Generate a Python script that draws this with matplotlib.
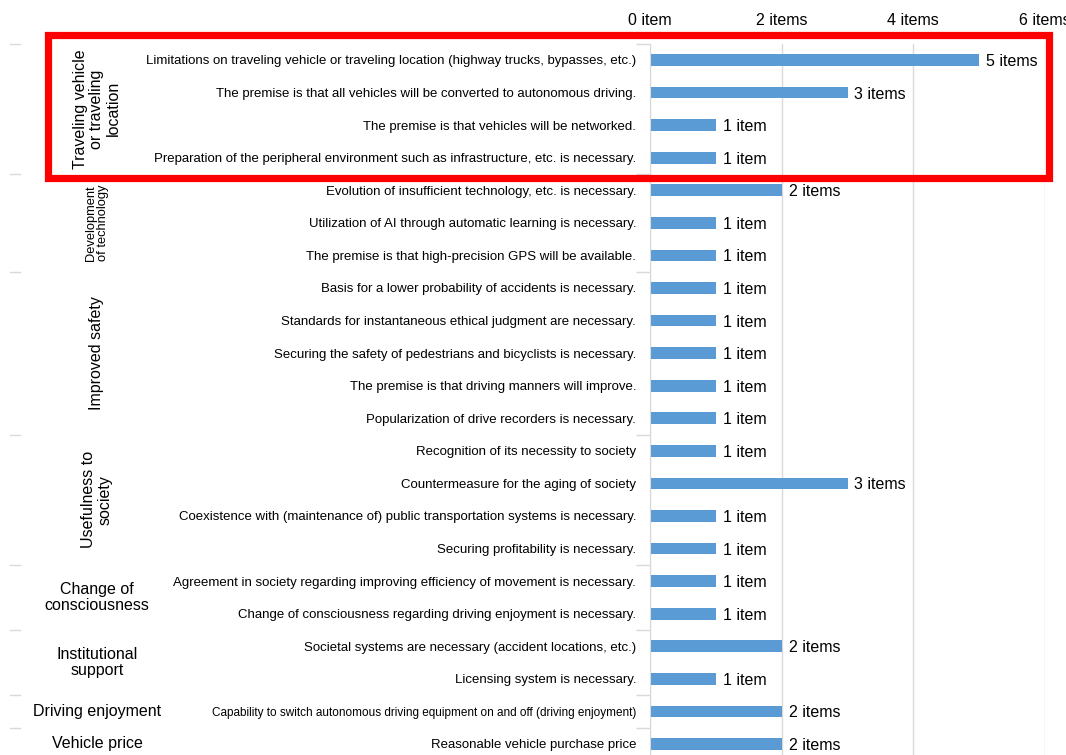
import matplotlib.pyplot as plt
from matplotlib.patches import Rectangle
from matplotlib.transforms import blended_transform_factory

plt.rcParams['font.family'] = ['Liberation Sans', 'DejaVu Sans']

# items, top to bottom
items = [
    "Limitations on traveling vehicle or traveling location (highway trucks, bypasses, etc.)",
    "The premise is that all vehicles will be converted to autonomous driving.",
    "The premise is that vehicles will be networked.",
    "Preparation of the peripheral environment such as infrastructure, etc. is necessary.",
    "Evolution of insufficient technology, etc. is necessary.",
    "Utilization of AI through automatic learning is necessary.",
    "The premise is that high-precision GPS will be available.",
    "Basis for a lower probability of accidents is necessary.",
    "Standards for instantaneous ethical judgment are necessary.",
    "Securing the safety of pedestrians and bicyclists is necessary.",
    "The premise is that driving manners will improve.",
    "Popularization of drive recorders is necessary.",
    "Recognition of its necessity to society",
    "Countermeasure for the aging of society",
    "Coexistence with (maintenance of) public transportation systems is necessary.",
    "Securing profitability is necessary.",
    "Agreement in society regarding improving efficiency of movement is necessary.",
    "Change of consciousness regarding driving enjoyment is necessary.",
    "Societal systems are necessary (accident locations, etc.)",
    "Licensing system is necessary.",
    "Capability to switch autonomous driving equipment on and off (driving enjoyment)",
    "Reasonable vehicle purchase price",
]
counts = [5, 3, 1, 1, 2, 1, 1, 1, 1, 1, 1, 1, 1, 3, 1, 1, 1, 1, 2, 1, 2, 2]

# groups: label, number of items
groups = [
    ("Traveling vehicle\nor traveling\nlocation", 4),
    ("Development\nof technology", 3),
    ("Improved safety", 5),
    ("Usefulness to\nsociety", 4),
    ("Change of\nconsciousness", 2),
    ("Institutional\nsupport", 2),
    ("Driving enjoyment", 1),
    ("Vehicle price", 1),
]
xticks = [0, 2, 4, 6]
xtick_labels = ["0 item", "2 items", "4 items", "6 items"]

W, H = 1066, 755
fig = plt.figure(figsize=(W / 100, H / 100), dpi=100)
top_px = 43.7
ax = fig.add_axes([650 / W, 0, (1045 - 650) / W, 1 - top_px / H])

gray = "#d9d9d9"
ypos = list(range(len(items)))
ax.barh(ypos, counts, height=0.36, color="#5B9BD5", zorder=2)

for y, c in zip(ypos, counts):
    lab = f"{c} item" if c == 1 else f"{c} items"
    ax.annotate(lab, (c, y), xytext=(7, -1.5), textcoords="offset pixels",
                ha="left", va="center", fontsize=11.5, color="#000000",
                bbox=dict(facecolor="white", edgecolor="none", pad=1), zorder=3)

row_px = 32.57
ax.set_xlim(0, 6)
ax.set_ylim(-0.5 + (H - top_px) / row_px, -0.5)

ax.xaxis.tick_top()
ax.set_xticks(xticks)
ax.set_xticklabels(xtick_labels, fontsize=11.5)
ax.tick_params(axis="x", length=0, pad=11.5)
ax.grid(axis="x", color=gray, linewidth=1)
ax.set_axisbelow(True)

ax.set_yticks(ypos)
ax.set_yticklabels(items, fontsize=9.5)
ax.get_yticklabels()[20].set_fontsize(8.5)
ax.tick_params(axis="y", length=0, pad=10)

for s in ["top", "right", "bottom"]:
    ax.spines[s].set_visible(False)
ax.spines["left"].set_color(gray)

# group boundaries
bounds = [-0.5]
for _, n in groups:
    bounds.append(bounds[-1] + n)
ax.set_yticks(bounds[:-1], minor=True)
ax.tick_params(axis="y", which="minor", length=10, color=gray, width=1)

tr = blended_transform_factory(fig.transFigure, ax.transData)
for b in bounds[:-1]:
    ax.plot([10 / W, 20 / W], [b, b], color=gray, lw=1, transform=tr, clip_on=False)

start = -0.5
for name, n in groups:
    yc = start + n / 2
    start += n
    if n >= 3:
        dev = name.startswith("Development")
        ax.text(97 / W, yc, name, transform=tr, rotation=90, ha="center",
                va="center", fontsize=9.3 if dev else 11.5,
                linespacing=1.0 if dev else 1.12, multialignment="center")
    else:
        ax.text(97 / W, yc, name, transform=tr, ha="center", va="center",
                fontsize=11.5, linespacing=1.05, multialignment="center")

# red highlight box
fig.patches.append(Rectangle((47.5 / W, 1 - 177.5 / H), (1049 - 47.5) / W, (177.5 - 34.5) / H,
                             transform=fig.transFigure, fill=False, edgecolor="#ff0000",
                             linewidth=5.2, zorder=10))

fig.savefig("out.png", dpi=100)
